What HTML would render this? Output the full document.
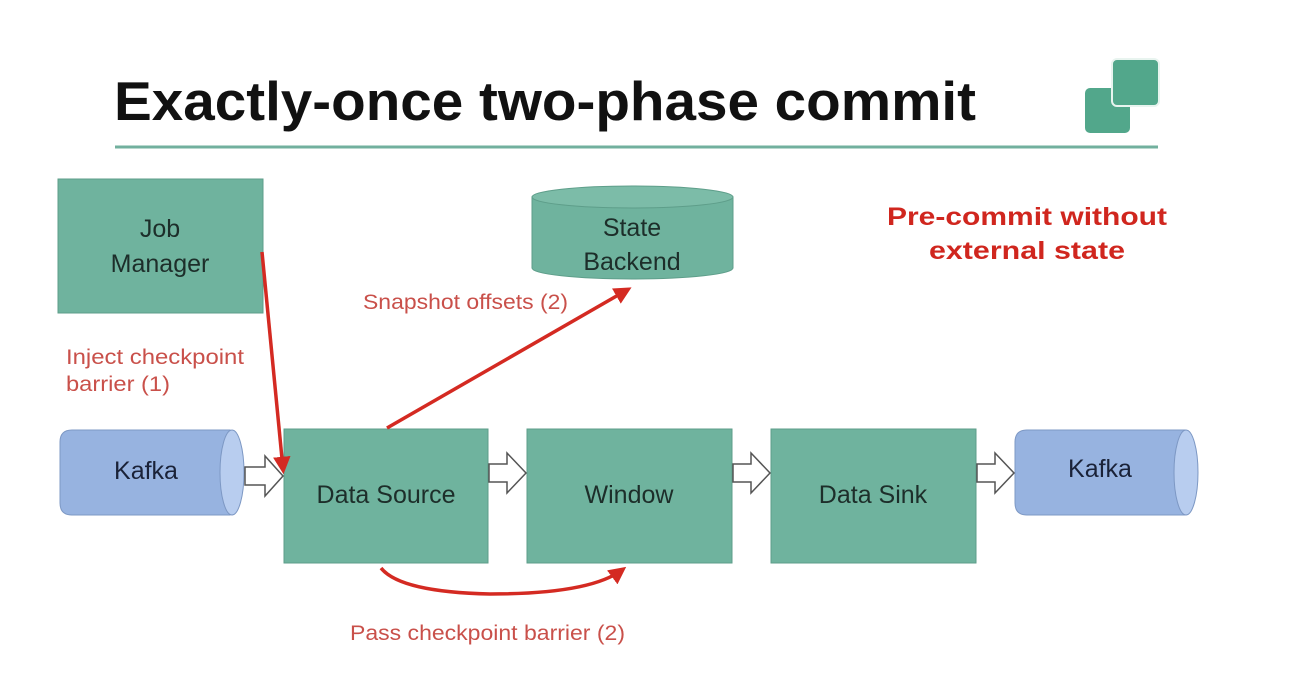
<!DOCTYPE html>
<html><head><meta charset="utf-8"><style>
html,body{margin:0;padding:0;background:#fff;}
svg{display:block;}
text{font-family:"Liberation Sans","DejaVu Sans",sans-serif;}
</style></head><body>
<svg width="1296" height="696" viewBox="0 0 1296 696" xmlns="http://www.w3.org/2000/svg">
<defs>
<marker id="ah" markerWidth="5" markerHeight="5" refX="3.5" refY="2.5" orient="auto" markerUnits="strokeWidth">
<path d="M0,0 L5,2.5 L0,5 z" fill="#d42a22"/></marker>
</defs>
<rect width="1296" height="696" fill="#fff"/>
<text x="114" y="120" font-size="55" font-weight="bold" fill="#111" textLength="862" lengthAdjust="spacingAndGlyphs">Exactly-once two-phase commit</text>
<line x1="115" y1="147" x2="1158" y2="147" stroke="#72b09e" stroke-width="3"/>
<rect x="1085" y="88" width="45" height="45" rx="5" fill="#52a78b"/>
<rect x="1112" y="59" width="47" height="47" rx="5" fill="#52a78b" stroke="#e8f4ef" stroke-width="2"/>

<rect x="58" y="179" width="205" height="134" fill="#6fb39e" stroke="#5e9e8a" stroke-width="1"/>
<text x="160" y="237" font-size="25" fill="#1d2e2a" text-anchor="middle">Job</text>
<text x="160" y="272" font-size="25" fill="#1d2e2a" text-anchor="middle">Manager</text>

<path d="M532,197 L532,268 A100.5,11 0 0 0 733,268 L733,197" fill="#6fb39e" stroke="#5e9e8a"/>
<ellipse cx="632.5" cy="197" rx="100.5" ry="11" fill="#7cbca8" stroke="#5e9e8a"/>
<text x="632" y="236" font-size="25" fill="#1d2e2a" text-anchor="middle">State</text>
<text x="632" y="270" font-size="25" fill="#1d2e2a" text-anchor="middle">Backend</text>

<text x="1027" y="225" font-size="25" font-weight="bold" fill="#d0261e" text-anchor="middle" textLength="280" lengthAdjust="spacingAndGlyphs">Pre-commit without</text>
<text x="1027" y="259" font-size="25" font-weight="bold" fill="#d0261e" text-anchor="middle" textLength="196" lengthAdjust="spacingAndGlyphs">external state</text>

<text x="363" y="309" font-size="21" fill="#c9504a" textLength="205" lengthAdjust="spacingAndGlyphs">Snapshot offsets (2)</text>
<text x="66" y="364" font-size="21" fill="#c9504a" textLength="178" lengthAdjust="spacingAndGlyphs">Inject checkpoint</text>
<text x="66" y="391" font-size="21" fill="#c9504a" textLength="104" lengthAdjust="spacingAndGlyphs">barrier (1)</text>
<text x="350" y="640" font-size="21" fill="#c9504a" textLength="275" lengthAdjust="spacingAndGlyphs">Pass checkpoint barrier (2)</text>

<path d="M72,430 L230,430 L230,515 L72,515 Q60,515 60,503 L60,442 Q60,430 72,430 Z" fill="#97b3e0" stroke="#7d98c4"/>
<ellipse cx="232" cy="472.5" rx="12" ry="42.5" fill="#b8cdef" stroke="#7d98c4"/>
<text x="146" y="479" font-size="25" fill="#1a2238" text-anchor="middle">Kafka</text>
<path d="M1027,430 L1185,430 L1185,515 L1027,515 Q1015,515 1015,503 L1015,442 Q1015,430 1027,430 Z" fill="#97b3e0" stroke="#7d98c4"/>
<ellipse cx="1186" cy="472.5" rx="12" ry="42.5" fill="#b8cdef" stroke="#7d98c4"/>
<text x="1100" y="477" font-size="25" fill="#1a2238" text-anchor="middle">Kafka</text>

<rect x="284" y="429" width="204" height="134" fill="#6fb39e" stroke="#5e9e8a"/>
<text x="386" y="503" font-size="25" fill="#1d2e2a" text-anchor="middle">Data Source</text>
<rect x="527" y="429" width="205" height="134" fill="#6fb39e" stroke="#5e9e8a"/>
<text x="629" y="503" font-size="25" fill="#1d2e2a" text-anchor="middle">Window</text>
<rect x="771" y="429" width="205" height="134" fill="#6fb39e" stroke="#5e9e8a"/>
<text x="873" y="503" font-size="25" fill="#1d2e2a" text-anchor="middle">Data Sink</text>

<g fill="#fff" stroke="#555" stroke-width="1.5">
<path d="M245,467 L265,467 L265,456 L283,476 L265,496 L265,485 L245,485 Z"/>
<path d="M489,464 L507,464 L507,453 L526,473 L507,493 L507,482 L489,482 Z"/>
<path d="M733,464 L751,464 L751,453 L770,473 L751,493 L751,482 L733,482 Z"/>
<path d="M977,464 L995,464 L995,453 L1014,473 L995,493 L995,482 L977,482 Z"/>
</g>

<g stroke="#d42a22" stroke-width="3.5" fill="none" marker-end="url(#ah)">
<path d="M262,252 L283,469"/>
<path d="M387,428 L627,290"/>
<path d="M381,568 Q400,592 490,594 Q590,594 622,570"/>
</g>
</svg>
</body></html>
